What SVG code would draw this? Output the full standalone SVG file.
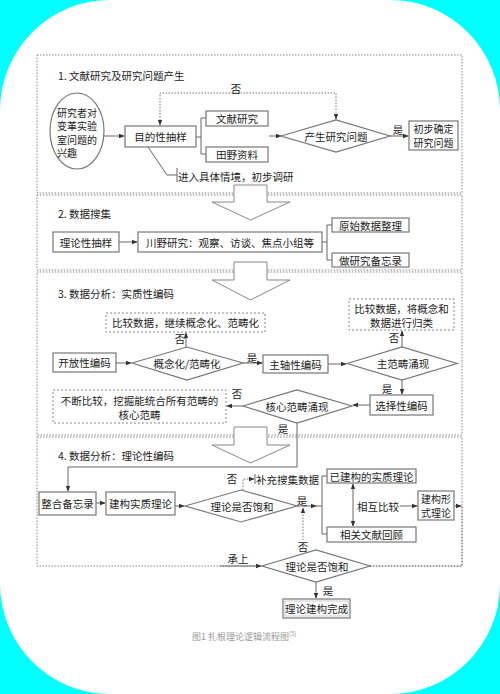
<svg xmlns="http://www.w3.org/2000/svg" width="500" height="694" viewBox="0 0 500 694">
<defs>
<style>
text{font-family:"Noto Sans CJK SC","Liberation Sans",sans-serif;font-size:10.5px;fill:#222;}
.c{text-anchor:middle;dominant-baseline:central;}
.l{dominant-baseline:central;}
.e{font-size:10px;}
.box{fill:#fff;stroke:#777;stroke-width:1.2;}
.dbox{fill:#fff;stroke:#888;stroke-width:1;stroke-dasharray:2 2;}
.sec{fill:none;stroke:#888;stroke-width:1;stroke-dasharray:1.5 1.5;}
.ln{fill:none;stroke:#666;stroke-width:1;}
.dl{fill:none;stroke:#777;stroke-width:1;stroke-dasharray:1.5 1.5;}
.big{fill:#fff;stroke:#888;stroke-width:1;}
</style>
<marker id="ah" viewBox="0 0 8 8" refX="7" refY="4" markerWidth="6" markerHeight="6" orient="auto-start-reverse" markerUnits="userSpaceOnUse">
<path d="M0,1 L8,4 L0,7 z" fill="#333"/>
</marker>
</defs>
<rect x="0" y="0" width="500" height="694" fill="#00ffff"/>
<rect x="0" y="0" width="500" height="694" rx="110" ry="110" fill="#fff"/>

<g id="sections">
<rect class="sec" x="37" y="55" width="425" height="138"/>
<rect class="sec" x="37" y="195" width="425" height="75"/>
<rect class="sec" x="37" y="272" width="425" height="163"/>
<rect class="sec" x="37" y="437" width="425" height="129"/>
<text class="l" x="58" y="75">1. 文献研究及研究问题产生</text>
<text class="l" x="58" y="213">2. 数据搜集</text>
<text class="l" x="58" y="293">3. 数据分析：实质性编码</text>
<text class="l" x="58" y="455">4. 数据分析：理论性编码</text>
</g>

<g id="bigarrows">
<polygon class="big" points="234,185 267,185 267,202 290,202 250.5,220 212,202 234,202"/>
<polygon class="big" points="234,262 267,262 267,280 290,280 250.5,300 212,280 234,280"/>
<polygon class="big" points="234,427 267,427 267,445 290,445 250.5,463 212,445 234,445"/>
</g>

<g id="connectors">
<line class="ln" x1="104" y1="136" x2="124" y2="136" marker-end="url(#ah)"/>
<polyline class="ln" points="196,137 201,137"/>
<polyline class="ln" points="206,118 201,118 201,154 206,154"/>
<line class="ln" x1="269" y1="136" x2="281" y2="136" marker-end="url(#ah)"/>
<polyline class="dl" points="336,119 336,93 160,93 160,125" marker-start="url(#ah)" marker-end="url(#ah)"/>
<line class="ln" x1="390" y1="136" x2="408" y2="136" marker-end="url(#ah)"/>
<polyline class="ln" points="148,147 167,175 177,175"/>
<line class="ln" x1="177" y1="168" x2="177" y2="182"/>

<line class="ln" x1="119" y1="242" x2="137" y2="242" marker-end="url(#ah)"/>
<line class="ln" x1="322" y1="242" x2="327" y2="242"/>
<polyline class="ln" points="332,225 327,225 327,260 332,260"/>

<line class="ln" x1="186" y1="347" x2="186" y2="333" marker-end="url(#ah)"/>
<line class="ln" x1="116" y1="363" x2="131" y2="363" marker-end="url(#ah)"/>
<line class="ln" x1="243" y1="363" x2="262" y2="363" marker-end="url(#ah)"/>
<line class="ln" x1="328" y1="364" x2="346" y2="364" marker-end="url(#ah)"/>
<line class="ln" x1="402" y1="347" x2="402" y2="331" marker-end="url(#ah)"/>
<line class="ln" x1="402" y1="380" x2="402" y2="394" marker-end="url(#ah)"/>
<line class="ln" x1="370" y1="405" x2="353" y2="405" marker-end="url(#ah)"/>
<line class="ln" x1="243" y1="406" x2="227" y2="406" marker-end="url(#ah)"/>
<polyline class="ln" points="297,423 297,467 68,467 68,491" marker-end="url(#ah)"/>

<line class="ln" x1="96" y1="503" x2="105" y2="503" marker-end="url(#ah)"/>
<line class="ln" x1="175" y1="506" x2="184" y2="506" marker-end="url(#ah)"/>
<polyline class="dl" points="243,490 243,479 254,479" marker-end="url(#ah)"/>
<line class="ln" x1="255" y1="474" x2="255" y2="484"/>
<line class="ln" x1="297" y1="506" x2="316" y2="506" marker-end="url(#ah)"/>
<line class="ln" x1="316" y1="506" x2="322" y2="506"/>
<polyline class="ln" points="327,476 322,476 322,534 327,534"/>
<line class="ln" x1="353" y1="484" x2="353" y2="526" marker-start="url(#ah)" marker-end="url(#ah)"/>
<line class="ln" x1="400" y1="506" x2="417" y2="506" marker-end="url(#ah)"/>
<line class="ln" x1="454" y1="506" x2="461" y2="506" marker-end="url(#ah)"/>
<polyline class="dl" points="370,566 462,566 462,506"/>
<line class="dl" x1="303" y1="540" x2="303" y2="508" marker-end="url(#ah)"/>
<line class="ln" x1="220" y1="566" x2="261" y2="566" marker-end="url(#ah)"/>
<line class="ln" x1="316" y1="582" x2="316" y2="598" marker-end="url(#ah)"/>
</g>

<g id="n_interest">
<ellipse cx="77" cy="131" rx="27" ry="38" fill="#fff" stroke="#777" stroke-width="1.2"/>
<text class="l e" x="57" y="112">研究者对</text>
<text class="l e" x="57" y="125.5">变革实验</text>
<text class="l e" x="57" y="139">室问题的</text>
<text class="l e" x="57" y="152.5">兴趣</text>
</g>
<g id="n_purposive">
<rect class="box" x="125" y="126" width="71" height="21"/>
<text class="c" x="160.5" y="136.5">目的性抽样</text>
</g>
<g id="n_literature">
<rect class="box" x="206" y="111" width="62" height="15"/>
<text class="c" x="237" y="118.5">文献研究</text>
</g>
<g id="n_field">
<rect class="box" x="206" y="147" width="62" height="15"/>
<text class="c" x="237" y="154.5">田野资料</text>
</g>
<g id="n_question">
<polygon class="box" points="281,136 336,120 390,136 336,152"/>
<text class="c" x="336" y="136">产生研究问题</text>
</g>
<g id="n_confirm">
<rect class="box" x="409" y="121" width="49" height="29"/>
<text class="c e" x="433.5" y="128.5">初步确定</text>
<text class="c e" x="433.5" y="142.5">研究问题</text>
</g>
<g id="n_enter">
<text class="l" x="178" y="176">进入具体情境，初步调研</text>
</g>
<g id="labels1">
<text class="c" x="236" y="88">否</text>
<text class="c" x="398" y="129">是</text>
</g>

<g id="n_theoretical">
<rect class="box" x="53" y="232" width="66" height="20"/>
<text class="c" x="86" y="242">理论性抽样</text>
</g>
<g id="n_fieldwork">
<rect class="box" x="138" y="232" width="184" height="20"/>
<text class="c" x="230" y="242">川野研究：观察、访谈、焦点小组等</text>
</g>
<g id="n_raw">
<rect class="box" x="332" y="218" width="77" height="14"/>
<text class="c" x="370.5" y="225">原始数据整理</text>
</g>
<g id="n_memo">
<rect class="box" x="332" y="253" width="77" height="14"/>
<text class="c" x="370.5" y="260">做研究备忘录</text>
</g>

<g id="n_compare1">
<rect class="dbox" x="106" y="313" width="159" height="19"/>
<text class="c" x="185.5" y="322.5">比较数据，继续概念化、范畴化</text>
</g>
<g id="n_open">
<rect class="box" x="53" y="353" width="63" height="19"/>
<text class="c" x="84.5" y="362.5">开放性编码</text>
</g>
<g id="n_concept">
<polygon class="box" points="132,363 187,347 243,363 187,380"/>
<text class="c" x="187" y="363.5">概念化/范畴化</text>
</g>
<g id="n_axial">
<rect class="box" x="263" y="355" width="65" height="18"/>
<text class="c" x="295.5" y="364">主轴性编码</text>
</g>
<g id="n_main">
<polygon class="box" points="347,363.5 402,347 457,363.5 402,380"/>
<text class="c" x="403" y="363.5">主范畴涌现</text>
</g>
<g id="n_compare2">
<rect class="dbox" x="349" y="299" width="105" height="31"/>
<text class="c" x="401.5" y="308.5">比较数据，将概念和</text>
<text class="c" x="401.5" y="322.5">数据进行归类</text>
</g>
<g id="n_selective">
<rect class="box" x="370" y="395" width="63" height="20"/>
<text class="c" x="401.5" y="405">选择性编码</text>
</g>
<g id="n_core">
<polygon class="box" points="243,406 297,390 352,406 297,423"/>
<text class="c" x="297" y="406">核心范畴涌现</text>
</g>
<g id="n_compare3">
<rect class="dbox" x="53" y="390" width="173" height="33"/>
<text class="c" x="139.5" y="400.5">不断比较，挖掘能统合所有范畴的</text>
<text class="c" x="139.5" y="414.5">核心范畴</text>
</g>
<g id="labels3">
<text class="c" x="180" y="338">否</text>
<text class="c" x="252" y="357">是</text>
<text class="c" x="394" y="337">否</text>
<text class="c" x="387" y="388">是</text>
<text class="c" x="237" y="393">否</text>
<text class="c" x="283" y="428">是</text>
</g>

<g id="n_integrate">
<rect class="box" x="39" y="492" width="57" height="23"/>
<text class="c" x="67.5" y="503.5">整合备忘录</text>
</g>
<g id="n_build">
<rect class="box" x="106" y="492" width="69" height="23"/>
<text class="c" x="140.5" y="503.5">建构实质理论</text>
</g>
<g id="n_sat1">
<polygon class="box" points="185,506 241,490 297,506 241,522"/>
<text class="c" x="242" y="506">理论是否饱和</text>
</g>
<g id="n_supplement">
<text class="l" x="256" y="479">补充搜集数据</text>
</g>
<g id="n_built">
<rect class="box" x="327" y="469" width="89" height="14"/>
<text class="c" x="371.5" y="476">已建构的实质理论</text>
</g>
<g id="n_review">
<rect class="box" x="327" y="527" width="89" height="15"/>
<text class="c" x="371.5" y="534.5">相关文献回顾</text>
</g>
<g id="n_mutual">
<text class="c" x="378" y="506">相互比较</text>
</g>
<g id="n_formal">
<rect class="box" x="418" y="491" width="36" height="29"/>
<text class="c e" x="436" y="498.5">建构形</text>
<text class="c e" x="436" y="512.5">式理论</text>
</g>
<g id="n_sat2">
<polygon class="box" points="262,566 316,550 370,566 316,582"/>
<text class="c" x="317" y="566">理论是否饱和</text>
</g>
<g id="n_done">
<rect class="box" x="283" y="599" width="67" height="19"/>
<rect x="285" y="601" width="63" height="15" fill="none" stroke="#aaa" stroke-width="0.6"/>
<text class="c" x="316.5" y="608.5">理论建构完成</text>
</g>
<g id="labels4">
<text class="c" x="232" y="478">否</text>
<text class="c" x="302" y="500">是</text>
<text class="c" x="303" y="546">否</text>
<text class="c" x="238" y="558">承上</text>
<text class="c" x="328" y="590">是</text>
</g>
<g id="caption">
<text x="192" y="640" style="font-size:9px;fill:#999;">图1 扎根理论逻辑流程图<tspan dy="-4" style="font-size:6px;fill:#999;">[5]</tspan></text>
</g>
</svg>
